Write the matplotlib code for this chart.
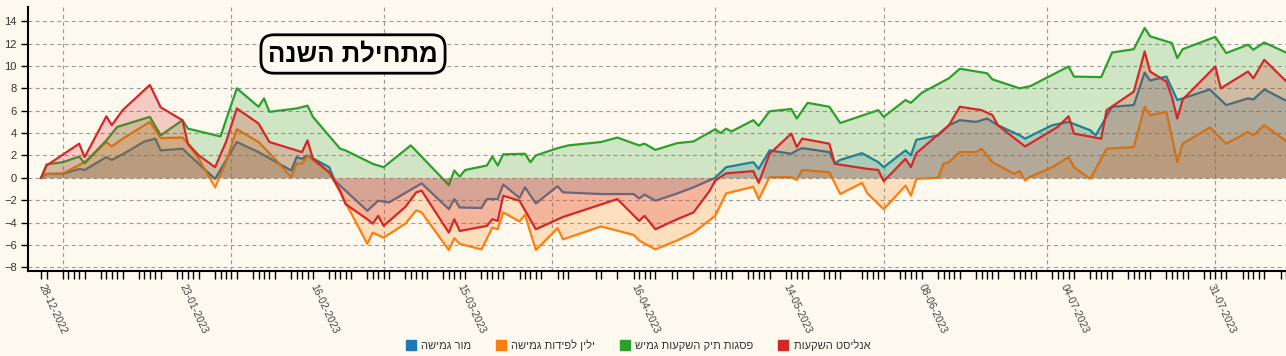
import numpy as np
import pandas as pd
import matplotlib
matplotlib.use('Agg')
import matplotlib.pyplot as plt
from matplotlib.patches import Patch

plt.rcParams['font.family'] = ['Liberation Sans', 'DejaVu Sans']

# ---------------------------------------------------------------- data
# cumulative return since start of year [%]
mor_dates = ['2022-12-28', '2022-12-29', '2023-01-01', '2023-01-04', '2023-01-05', '2023-01-09',
             '2023-01-10', '2023-01-12', '2023-01-16', '2023-01-18', '2023-01-19', '2023-01-23',
             '2023-01-24', '2023-01-29', '2023-01-31', '2023-02-02', '2023-02-06', '2023-02-12',
             '2023-02-13', '2023-02-14', '2023-02-15', '2023-02-19', '2023-02-20', '2023-02-26',
             '2023-02-28', '2023-03-02', '2023-03-08', '2023-03-13', '2023-03-14', '2023-03-15',
             '2023-03-19', '2023-03-20', '2023-03-22', '2023-03-23', '2023-03-26', '2023-03-27',
             '2023-03-29', '2023-04-02', '2023-04-03', '2023-04-10', '2023-04-16', '2023-04-17',
             '2023-04-18', '2023-04-20', '2023-04-24', '2023-04-27', '2023-05-01', '2023-05-03',
             '2023-05-08', '2023-05-09', '2023-05-11', '2023-05-15', '2023-05-16', '2023-05-17',
             '2023-05-22', '2023-05-23', '2023-05-24', '2023-05-28', '2023-05-31', '2023-06-01',
             '2023-06-05', '2023-06-06', '2023-06-07', '2023-06-11', '2023-06-13', '2023-06-15',
             '2023-06-18', '2023-06-20', '2023-06-22', '2023-06-26', '2023-06-27', '2023-07-02',
             '2023-07-05', '2023-07-09', '2023-07-10', '2023-07-13', '2023-07-17', '2023-07-19',
             '2023-07-20', '2023-07-23', '2023-07-25', '2023-07-26', '2023-07-31', '2023-08-03',
             '2023-08-07', '2023-08-08', '2023-08-10', '2023-08-14']
mor_vals = [0, 0.35, 0.35, 0.8, 0.7, 1.85,
            1.6, 2.1, 3.25, 3.5, 2.45, 2.6,
            2.15, -0.1, 1.55, 3.2, 2.3, 0.65,
            1.85, 1.7, 2.0, 0.95, -0.25, -2.95,
            -2.05, -2.2, -0.5, -2.8, -1.9, -2.65,
            -2.7, -1.9, -1.9, -0.6, -1.8, -0.85,
            -2.3, -0.75, -1.3, -1.45, -1.45, -1.85,
            -1.5, -2.05, -1.4, -0.85, 0.0, 0.95,
            1.4, 0.8, 2.45, 2.15, 2.45, 2.65,
            2.3, 1.3, 1.6, 2.2, 1.4, 0.95,
            2.45, 2.0, 3.4, 3.8, 4.7, 5.15,
            5.0, 5.3, 4.7, 3.8, 3.5, 4.7,
            5.0, 4.25, 3.8, 6.35, 6.5, 9.4,
            8.7, 9.05, 6.95, 7.1, 7.9, 6.5,
            7.1, 7.0, 7.9, 6.9]

yelin_dates = ['2022-12-28', '2022-12-29', '2023-01-01', '2023-01-05', '2023-01-09', '2023-01-10',
               '2023-01-12', '2023-01-17', '2023-01-19', '2023-01-23', '2023-01-24', '2023-01-26',
               '2023-01-29', '2023-01-31', '2023-02-02', '2023-02-06', '2023-02-09', '2023-02-12',
               '2023-02-13', '2023-02-14', '2023-02-15', '2023-02-19', '2023-02-21', '2023-02-26',
               '2023-02-27', '2023-03-01', '2023-03-05', '2023-03-07', '2023-03-08', '2023-03-13',
               '2023-03-14', '2023-03-15', '2023-03-19', '2023-03-21', '2023-03-22', '2023-03-23',
               '2023-03-26', '2023-03-27', '2023-03-29', '2023-04-02', '2023-04-03', '2023-04-10',
               '2023-04-16', '2023-04-17', '2023-04-20', '2023-04-24', '2023-04-27', '2023-05-01',
               '2023-05-03', '2023-05-08', '2023-05-09', '2023-05-11', '2023-05-15', '2023-05-16',
               '2023-05-17', '2023-05-22', '2023-05-24', '2023-05-28', '2023-05-29', '2023-06-01',
               '2023-06-05', '2023-06-06', '2023-06-07', '2023-06-11', '2023-06-12', '2023-06-13',
               '2023-06-15', '2023-06-18', '2023-06-19', '2023-06-21', '2023-06-25', '2023-06-26',
               '2023-06-27', '2023-06-28', '2023-07-02', '2023-07-05', '2023-07-06', '2023-07-09',
               '2023-07-12', '2023-07-17', '2023-07-19', '2023-07-20', '2023-07-23', '2023-07-25',
               '2023-07-26', '2023-07-31', '2023-08-03', '2023-08-07', '2023-08-08', '2023-08-10',
               '2023-08-14']
yelin_vals = [0, 0.35, 0.4, 1.4, 3.2, 2.8,
              3.5, 5.0, 3.55, 3.6, 3.05, 1.7,
              -0.85, 1.4, 4.35, 3.2, 1.7, 0.05,
              1.3, 1.25, 1.95, 0.5, -1.3, -5.9,
              -4.9, -5.35, -4.1, -2.9, -3.1, -6.45,
              -5.4, -5.9, -6.4, -4.45, -4.6, -3.1,
              -3.9, -3.3, -6.45, -4.5, -5.5, -4.35,
              -5.1, -5.6, -6.4, -5.6, -4.9, -3.4,
              -1.4, -0.8, -1.9, 0.05, 0.05, -0.2,
              0.7, 0.5, -1.45, -0.45, -1.4, -2.8,
              -0.7, -1.6, -0.1, 0.0, 1.25, 1.4,
              2.3, 2.3, 2.6, 1.4, 0.35, 0.6,
              -0.25, 0.1, 0.95, 1.85, 0.95, -0.1,
              2.6, 2.75, 6.35, 5.6, 5.9, 1.4,
              3.05, 4.5, 3.05, 4.1, 3.8, 4.7,
              3.3]

psagot_dates = ['2022-12-28', '2022-12-29', '2023-01-01', '2023-01-04', '2023-01-05', '2023-01-09',
                '2023-01-11', '2023-01-17', '2023-01-19', '2023-01-23', '2023-01-24', '2023-01-30',
                '2023-01-31', '2023-02-02', '2023-02-06', '2023-02-07', '2023-02-08', '2023-02-13',
                '2023-02-15', '2023-02-16', '2023-02-21', '2023-02-22', '2023-02-27', '2023-03-01',
                '2023-03-06', '2023-03-13', '2023-03-14', '2023-03-15', '2023-03-16', '2023-03-20',
                '2023-03-21', '2023-03-22', '2023-03-23', '2023-03-27', '2023-03-28', '2023-03-29',
                '2023-04-02', '2023-04-04', '2023-04-10', '2023-04-13', '2023-04-17', '2023-04-18',
                '2023-04-20', '2023-04-24', '2023-04-27', '2023-05-01', '2023-05-02', '2023-05-03',
                '2023-05-04', '2023-05-08', '2023-05-09', '2023-05-11', '2023-05-15', '2023-05-16',
                '2023-05-18', '2023-05-22', '2023-05-24', '2023-05-31', '2023-06-01', '2023-06-05',
                '2023-06-06', '2023-06-08', '2023-06-13', '2023-06-15', '2023-06-20', '2023-06-21',
                '2023-06-26', '2023-06-28', '2023-07-02', '2023-07-05', '2023-07-06', '2023-07-11',
                '2023-07-13', '2023-07-17', '2023-07-19', '2023-07-20', '2023-07-24', '2023-07-25',
                '2023-07-26', '2023-08-01', '2023-08-03', '2023-08-07', '2023-08-08', '2023-08-10',
                '2023-08-14']
psagot_vals = [0, 1.2, 1.4, 1.9, 1.3, 3.35,
               4.55, 5.45, 3.8, 5.15, 4.4, 3.7,
               5.15, 8.0, 6.35, 7.1, 5.9, 6.2,
               6.45, 5.45, 2.6, 2.45, 1.25, 0.95,
               2.9, -0.65, 0.65, 0.1, 0.7, 1.1,
               1.9, 1.1, 2.1, 2.15, 1.4, 2.0,
               2.65, 2.9, 3.2, 3.6, 2.9, 3.05,
               2.5, 3.1, 3.25, 4.35, 4.0, 4.4,
               4.15, 5.15, 4.65, 5.95, 6.15, 5.3,
               6.7, 6.35, 4.9, 6.05, 5.45, 6.95,
               6.7, 7.6, 8.9, 9.75, 9.35, 8.8,
               8.0, 8.2, 9.2, 9.95, 9.05, 9.0,
               11.2, 11.5, 13.4, 12.65, 12.05, 10.7,
               11.5, 12.6, 11.15, 11.9, 11.45, 12.1,
               11.2]

analyst_dates = ['2022-12-28', '2022-12-29', '2023-01-04', '2023-01-05', '2023-01-09', '2023-01-10',
                 '2023-01-12', '2023-01-17', '2023-01-19', '2023-01-23', '2023-01-24', '2023-01-26',
                 '2023-01-29', '2023-01-31', '2023-02-02', '2023-02-06', '2023-02-08', '2023-02-14',
                 '2023-02-15', '2023-02-16', '2023-02-19', '2023-02-21', '2023-02-22', '2023-02-26',
                 '2023-02-27', '2023-02-28', '2023-03-01', '2023-03-05', '2023-03-07', '2023-03-08',
                 '2023-03-13', '2023-03-14', '2023-03-15', '2023-03-20', '2023-03-21', '2023-03-22',
                 '2023-03-23', '2023-03-26', '2023-03-29', '2023-04-03', '2023-04-13', '2023-04-17',
                 '2023-04-18', '2023-04-20', '2023-04-24', '2023-04-27', '2023-04-30', '2023-05-01',
                 '2023-05-03', '2023-05-08', '2023-05-09', '2023-05-11', '2023-05-15', '2023-05-16',
                 '2023-05-17', '2023-05-22', '2023-05-23', '2023-05-29', '2023-05-31', '2023-06-01',
                 '2023-06-05', '2023-06-06', '2023-06-07', '2023-06-13', '2023-06-15', '2023-06-19',
                 '2023-06-21', '2023-06-22', '2023-06-27', '2023-07-03', '2023-07-05', '2023-07-06',
                 '2023-07-11', '2023-07-12', '2023-07-17', '2023-07-19', '2023-07-20', '2023-07-23',
                 '2023-07-24', '2023-07-25', '2023-07-26', '2023-08-01', '2023-08-02', '2023-08-07',
                 '2023-08-08', '2023-08-10', '2023-08-14']
analyst_vals = [0, 1.1, 3.05, 1.85, 5.5, 4.7,
                6.05, 8.3, 6.3, 5.15, 3.05, 2.0,
                0.95, 3.2, 6.2, 4.85, 3.2, 2.3,
                3.35, 1.7, 0.5, -1.15, -2.35, -3.7,
                -4.1, -3.4, -4.3, -2.6, -1.3, -1.15,
                -4.9, -3.7, -4.75, -4.3, -3.7, -3.85,
                -1.6, -2.05, -4.6, -3.5, -1.9, -3.85,
                -3.4, -4.6, -3.7, -3.1, -1.15, -0.25,
                0.4, 0.6, -0.45, 2.15, 3.95, 2.75,
                3.5, 3.05, 1.25, 0.8, 0.7, -0.3,
                1.7, 0.95, 2.2, 4.7, 6.35, 6.05,
                5.6, 4.7, 2.8, 4.55, 5.5, 3.95,
                3.5, 6.05, 7.7, 11.3, 9.5, 8.6,
                7.25, 5.3, 7.0, 9.95, 8.0, 9.5,
                8.9, 10.55, 8.65]

# legend names (logical order, right-to-left language)
names = ['מור גמישה', 'ילין לפידות גמישה', 'פסגות תיק השקעות גמיש', 'אנליסט השקעות']
colors = ['#1f77b4', '#ff7f0e', '#2ca02c', '#d62728']
title_txt = 'מתחילת השנה'

label_dates = ['2022-12-28', '2023-01-23', '2023-02-16', '2023-03-15', '2023-04-16',
               '2023-05-14', '2023-06-08', '2023-07-04', '2023-07-31']
grid_dates = ['2023-01-01', '2023-02-01', '2023-03-01', '2023-04-01', '2023-05-01',
              '2023-06-01', '2023-07-01', '2023-08-01']
holidays = ['2023-04-05', '2023-04-06', '2023-04-11', '2023-04-12', '2023-04-25',
            '2023-04-26', '2023-05-25']
y_ticks = list(range(-8, 15, 2))


def heb(s):
    # matplotlib has no bidi support -> reverse for visual order
    return s[::-1]


# ---------------------------------------------------------------- figure
bg = '#fdf9ef'
fig = plt.figure(figsize=(12.86, 3.56), dpi=100, facecolor=bg)
ax = fig.add_axes([28/1286, 85/356, 1 - 28/1286, 264/356])
ax.set_facecolor(bg)

series = [(mor_dates, mor_vals), (yelin_dates, yelin_vals),
          (psagot_dates, psagot_vals), (analyst_dates, analyst_vals)]
for i, (d, v) in enumerate(series):
    d = pd.to_datetime(d)
    v = np.array(v)
    ax.fill_between(d, 0, v, color=colors[i], alpha=0.22, lw=0, zorder=2 + i)
    ax.plot(d, v, color=colors[i], lw=1.6, zorder=2 + i, solid_joinstyle='round')

ax.set_ylim(-8.33, 15.27)
ax.set_xlim(pd.Timestamp('2022-12-25 14:00'), pd.Timestamp('2023-08-14'))

# grid
ax.set_yticks(y_ticks)
ax.yaxis.grid(True, color='#9a9a9a', lw=0.8, ls=(0, (3.5, 3)), zorder=1)
for g in grid_dates:
    ax.axvline(pd.Timestamp(g), color='#9a9a9a', lw=0.8, ls=(0, (3.5, 3)), zorder=1)

# x ticks: every trading day (Sun-Thu), labels on a few
trade_days = pd.bdate_range('2022-12-28', '2023-08-14', freq='C',
                            weekmask='Sun Mon Tue Wed Thu', holidays=holidays)
ax.set_xticks(pd.to_datetime(trade_days), minor=True)
ax.set_xticks(pd.to_datetime(label_dates))
ax.set_xticklabels([pd.Timestamp(x).strftime('%d-%m-%Y') for x in label_dates],
                   rotation=-65, ha='left', va='center', rotation_mode='anchor')
ax.tick_params(axis='x', which='both', length=6, width=1, color='black')
ax.tick_params(axis='x', which='major', labelsize=7.5, labelcolor='#444444', pad=4)
ax.tick_params(axis='y', length=5, width=1, labelsize=8, labelcolor='#333333', pad=3)

for s in ['top', 'right']:
    ax.spines[s].set_visible(False)
for s in ['left', 'bottom']:
    ax.spines[s].set_linewidth(1.5)
    ax.spines[s].set_color('black')

# title box
fig.text(353/1286, 1 - 54/356, heb(title_txt), fontsize=18.5, fontweight='bold',
         ha='center', va='center', color='black',
         bbox=dict(boxstyle='round,pad=0.28,rounding_size=0.5', fc=bg, ec='black', lw=2))

# legend
handles = [Patch(facecolor=c, edgecolor=c) for c in colors]
leg = fig.legend(handles, [heb(n) for n in names], loc='center',
                 bbox_to_anchor=(0.496, 0.031), ncol=4, frameon=False, fontsize=8,
                 handlelength=0.9, handleheight=0.9, handletextpad=0.5, columnspacing=2.2)
for t in leg.get_texts():
    t.set_color('#333333')

fig.savefig('out.png', dpi=100, facecolor=bg)
